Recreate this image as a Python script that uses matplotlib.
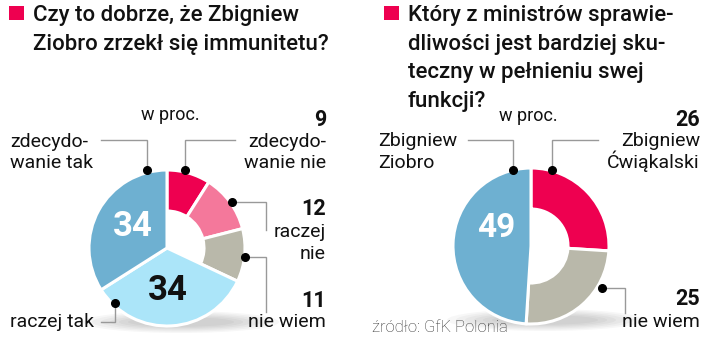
import matplotlib
matplotlib.use('Agg')
import matplotlib.pyplot as plt
from matplotlib import font_manager
from matplotlib.patches import Rectangle, Ellipse

# ---------------------------------------------------------
# Data (values in percent)
# ---------------------------------------------------------
left_values = [9, 12, 11, 34, 34]
left_labels = ['zdecydo-\nwanie nie', 'raczej\nnie', 'nie wiem', 'raczej tak', 'zdecydo-\nwanie tak']
left_colors = ['#EE0050', '#F4789B', '#B9B8AA', '#ABE5F9', '#6EB0D1']
left_ring = [True, True, True, False, False]

right_values = [26, 25, 49]
right_labels = ['Zbigniew\nĆwiąkalski', 'nie wiem', 'Zbigniew\nZiobro']
right_colors = ['#EE0050', '#B9B8AA', '#6EB0D1']
right_ring = [True, True, False]

left_title = ['Czy to dobrze, że Zbigniew', 'Ziobro zrzekł się immunitetu?']
right_title = ['Który z ministrów sprawie-', 'dliwości jest bardziej sku-',
               'teczny w pełnieniu swej', 'funkcji?']
source = 'źródło: GfK Polonia'

names = {f.name for f in font_manager.fontManager.ttflist}
font = 'Roboto' if 'Roboto' in names else 'DejaVu Sans'
plt.rcParams['font.family'] = [font, 'DejaVu Sans']

W, H = 720, 350
fig = plt.figure(figsize=(7.2, 3.5), dpi=100)
ax = fig.add_axes([0, 0, 1, 1])
INK = '#111111'
LBL = 14


def Y(y):
    # image rows run top-down, axes run bottom-up
    return H - y


def donut(cx, cy, values, colors, ring):
    # soft shadow under the pie
    for k in range(6):
        ax.add_patch(Ellipse((cx + 14, Y(cy + 74)), 196 - k * 18, 22 - k * 2.5,
                             color='#000000', alpha=0.03, lw=0, zorder=1))
    wedges, _ = ax.pie(values, colors=colors, startangle=90, counterclock=False,
                       center=(cx, Y(cy)), radius=78, frame=True,
                       wedgeprops=dict(edgecolor='white', linewidth=2.2))
    for w, r in zip(wedges, ring):
        w.set_zorder(2)
        if r:
            w.set_width(78 - 37)
    return wedges


donut(167, 248, left_values, left_colors, left_ring)
donut(531, 246, right_values, right_colors, right_ring)


def text_lines(x, base, txt, ha, size, weight='normal', step=21, color=INK):
    # one text per line so every baseline sits where it does in the print
    for i, line in enumerate(txt.split('\n')):
        ax.text(x, Y(base + i * step), line, fontsize=size, fontweight=weight,
                ha=ha, va='baseline', color=color, zorder=5)


# ---------------------------------------------------------
# Titles
# ---------------------------------------------------------
for x, lines in [(33, left_title), (408, right_title)]:
    ax.add_patch(Rectangle((x - 24, Y(20)), 15, 14, color='#EE0050', lw=0))
    text_lines(x, 21, '\n'.join(lines), 'left', 16, 'medium', step=28.6)

text_lines(170, 120, 'w proc.', 'center', 13)
text_lines(528, 121, 'w proc.', 'center', 13)


def leader(pts):
    xs = [p[0] for p in pts]
    ys = [Y(p[1]) for p in pts]
    ax.plot(xs, ys, color='#999999', lw=1.0, zorder=3, solid_joinstyle='miter')
    ax.plot(xs[-1], ys[-1], 'o', color='black', ms=5.5, zorder=4)


# left chart labels
text_lines(326, 126, str(left_values[0]), 'right', 15.5, 'bold')
text_lines(326, 147, left_labels[0], 'right', LBL)
text_lines(326, 215, str(left_values[1]), 'right', 15.5, 'bold')
text_lines(326, 237, left_labels[1], 'right', LBL, step=22)
text_lines(326, 307, str(left_values[2]), 'right', 15.5, 'bold')
text_lines(326, 327, left_labels[2], 'right', LBL)
text_lines(10, 147, left_labels[4], 'left', LBL)
text_lines(10, 327, left_labels[3], 'left', LBL)

leader([(101, 140), (147, 140), (147, 170)])
leader([(235, 140), (185, 140), (185, 170)])
leader([(266, 230), (266, 202), (232, 202)])
leader([(266, 312), (266, 257), (245, 257)])
leader([(101, 322), (115, 322), (115, 303)])

text_lines(133, 236, str(left_values[4]), 'center', 25, 'bold', color='white')
text_lines(168, 300, str(left_values[3]), 'center', 25, 'bold')

# right chart labels
text_lines(700, 126, str(right_values[0]), 'right', 15.5, 'bold')
text_lines(700, 146, right_labels[0], 'right', LBL, step=22)
text_lines(700, 305, str(right_values[1]), 'right', 15.5, 'bold')
text_lines(700, 327, right_labels[1], 'right', LBL)
text_lines(378, 146, right_labels[2], 'left', LBL, step=22)

leader([(468, 140), (513, 140), (513, 170)])
leader([(598, 140), (552, 140), (552, 170)])
leader([(625, 313), (625, 288), (602, 288)])

text_lines(496, 237, str(right_values[2]), 'center', 24, 'bold', color='white')

text_lines(372, 332, source, 'left', 12, 'light', color='#333333')

ax.set_xlim(0, W)
ax.set_ylim(0, H)
ax.set_aspect('auto')
ax.axis('off')

fig.savefig('out.png', dpi=100)
